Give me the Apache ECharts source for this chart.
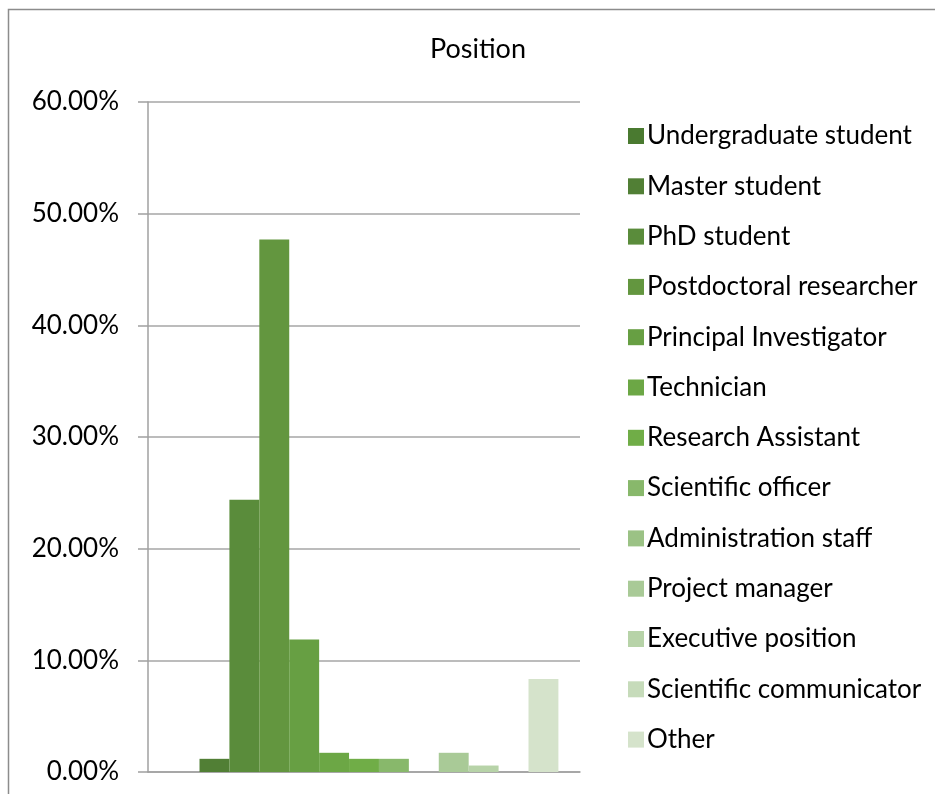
<!DOCTYPE html>
<html lang="en">
<head>
    <meta charset="UTF-8">
    <title>Position</title>
    <script src="https://cdn.jsdelivr.net/npm/echarts@6.0.0/dist/echarts.min.js"></script>
    <style>
        body { margin: 0; padding: 0; background: #fff; overflow: hidden; }
        #chart { width: 935px; height: 794px; }
    </style>
</head>
<body>
    <div id="chart"></div>
    <script>
        var positions = ['Undergraduate student', 'Master student', 'PhD student', 'Postdoctoral researcher',
            'Principal Investigator', 'Technician', 'Research Assistant', 'Scientific officer',
            'Administration staff', 'Project manager', 'Executive position', 'Scientific communicator', 'Other']
        var shares = [0, 1.18, 24.39, 47.68, 11.86, 1.72, 1.18, 1.18, 0, 1.72, 0.58, 0, 8.33]
        var colors = ['#4a7a30', '#517f35', '#5a8c3b', '#63963f', '#679f43', '#6ca745', '#70ad47',
            '#88b86b', '#9bc285', '#a9ca97', '#b7d3a8', '#c6dbba', '#d5e3cb']
        var yTicks = [0, 10, 20, 30, 40, 50, 60]

        var font = 'Lato, sans-serif'
        var series = []
        for (var i = 0; i < positions.length; i++) {
            series.push({
                name: positions[i],
                type: 'bar',
                data: [shares[i]],
                barGap: '0%',
                barCategoryGap: '10%',
                itemStyle: { color: colors[i] },
                emphasis: { disabled: true }
            })
        }

        var myChart = echarts.init(document.getElementById('chart'))
        var option = {
            animation: false,
            backgroundColor: '#fff',
            title: {
                text: 'Position',
                left: 473,
                top: 31,
                textAlign: 'center',
                textStyle: { fontFamily: font, fontSize: 27, fontWeight: 'normal', color: '#000' }
            },
            graphic: [{
                type: 'rect',
                shape: { x: 8.5, y: 9.5, width: 940, height: 800 },
                style: { fill: 'none', stroke: '#8c8c8c', lineWidth: 1.5 },
                silent: true
            }],
            legend: {
                orient: 'vertical',
                left: 623,
                top: 118,
                icon: 'rect',
                itemWidth: 16,
                itemHeight: 16,
                itemGap: 24.3,
                textStyle: { fontFamily: font, fontSize: 26, color: '#000', lineHeight: 26, padding: [0, 0, 0, -2] },
                data: positions
            },
            grid: { left: 148, right: 355, top: 102, bottom: 22, containLabel: false },
            xAxis: {
                type: 'category',
                data: [''],
                axisLine: { lineStyle: { color: '#a0a0a0', width: 1.5 } },
                axisTick: { show: false },
                axisLabel: { show: false }
            },
            yAxis: {
                type: 'value',
                min: yTicks[0],
                max: yTicks[yTicks.length - 1],
                interval: 10,
                axisLine: { show: true, lineStyle: { color: '#a0a0a0', width: 1.5 } },
                axisTick: { show: true, length: 10, lineStyle: { color: '#a0a0a0', width: 1.5 } },
                splitLine: { lineStyle: { color: '#a6a6a6', width: 1.5 } },
                axisLabel: {
                    margin: 29,
                    fontFamily: font,
                    fontSize: 26,
                    color: '#000',
                    formatter: function (v) { return v.toFixed(2) + '%' }
                }
            },
            series: series
        }
        myChart.setOption(option)
    </script>
</body>
</html>
